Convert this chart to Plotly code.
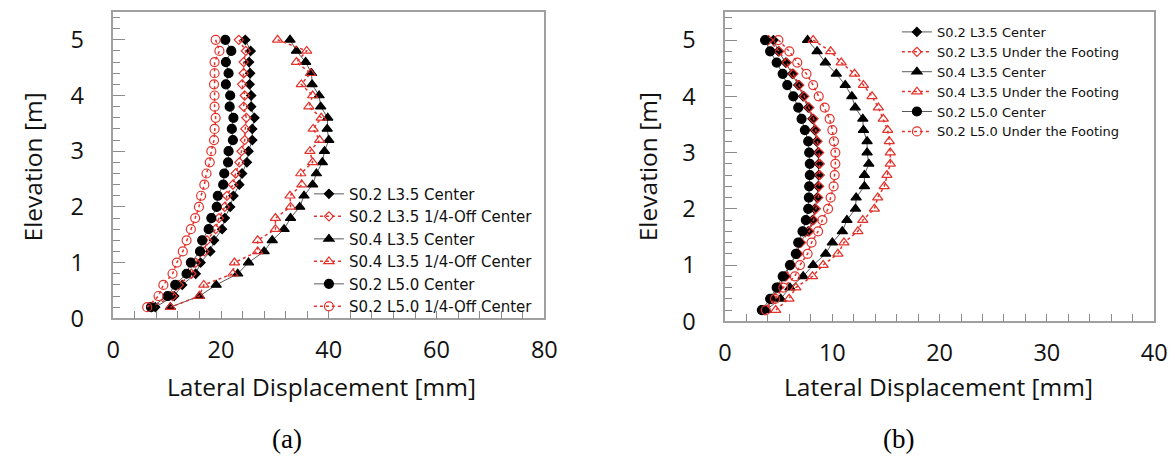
import plotly.graph_objects as go

# ---------------- data ----------------
elevation = [5.0, 4.8, 4.6, 4.4, 4.2, 4.0, 3.8, 3.6, 3.4, 3.2, 3.0, 2.8, 2.6,
             2.4, 2.2, 2.0, 1.8, 1.6, 1.4, 1.2, 1.0, 0.8, 0.6, 0.4, 0.2]

# panel (a)
a_s02_l35_center = [24.5, 25.5, 25.2, 25.4, 25.3, 25.6, 25.6, 26.2, 25.8, 25.8, 25.1, 24.8, 23.9,
                    23.4, 22.3, 21.7, 20.7, 20.2, 18.7, 18.0, 16.2, 15.3, 12.8, 11.3, 7.8]
a_s02_l35_off = [23.3, 24.6, 24.2, 24.2, 23.9, 24.4, 24.2, 24.7, 24.5, 24.4, 23.8, 23.4, 22.7,
                 22.2, 21.1, 20.7, 19.6, 19.0, 17.4, 16.9, 15.3, 14.5, 12.2, 11.0, 7.1]
a_s04_l35_center = [32.8, 34.0, 35.7, 36.8, 36.9, 38.2, 38.5, 39.8, 39.7, 40.0, 39.2, 38.8, 37.7,
                    37.0, 35.4, 34.6, 32.9, 31.7, 29.5, 28.0, 25.1, 23.1, 19.1, 16.0, 10.6]
a_s04_l35_off = [30.5, 35.9, 34.0, 36.6, 34.9, 37.0, 36.3, 38.6, 37.1, 38.3, 36.5, 37.0, 34.8,
                 35.0, 32.8, 32.9, 30.1, 30.1, 26.8, 26.8, 22.5, 22.2, 16.8, 16.0, 10.6]
a_s02_l50_center = [20.8, 21.9, 20.9, 21.4, 20.9, 21.7, 21.6, 22.3, 22.0, 22.2, 21.4, 21.3, 20.6,
                    20.4, 19.4, 19.2, 18.2, 17.7, 16.5, 16.1, 14.4, 13.6, 11.5, 10.1, 7.0]
a_s02_l50_off = [19.0, 19.7, 18.8, 18.8, 18.7, 18.8, 18.8, 19.0, 18.8, 18.7, 18.2, 17.9, 17.3,
                 16.9, 16.3, 15.9, 15.2, 14.4, 13.6, 12.9, 11.8, 11.0, 9.3, 8.4, 6.3]

# panel (b)
b_s02_l35_center = [4.51, 4.97, 5.65, 6.27, 6.82, 7.28, 7.75, 8.15, 8.36, 8.52, 8.67, 8.73, 8.73,
                    8.67, 8.58, 8.36, 8.15, 7.75, 6.98, 6.73, 6.05, 5.59, 4.91, 4.35, 3.67]
b_s02_l35_under = [4.05, 5.05, 5.75, 6.37, 6.92, 7.38, 7.85, 8.25, 8.46, 8.62, 8.77, 8.83, 8.83,
                   8.77, 8.68, 8.46, 8.25, 7.85, 7.08, 6.83, 6.15, 5.69, 5.01, 4.45, 3.75]
b_s04_l35_center = [7.69, 8.58, 9.35, 10.37, 11.20, 11.82, 12.13, 12.84, 12.90, 13.24, 13.24, 13.40, 12.99,
                    12.99, 12.22, 12.16, 11.36, 10.93, 10.00, 9.38, 8.21, 7.28, 6.05, 5.19, 3.80]
b_s04_l35_under = [8.21, 9.84, 10.83, 12.07, 12.90, 13.70, 14.29, 14.75, 15.16, 15.31, 15.40, 15.40, 15.09,
                   14.84, 14.23, 13.92, 12.84, 12.38, 11.08, 10.52, 9.14, 8.15, 6.60, 5.96, 4.72]
b_s02_l50_center = [3.73, 4.20, 4.81, 5.37, 5.80, 6.36, 6.82, 7.13, 7.44, 7.75, 7.84, 7.90, 7.90,
                    7.84, 7.81, 7.75, 7.53, 7.22, 6.82, 6.60, 6.05, 5.37, 4.81, 4.20, 3.43]
b_s02_l50_under = [4.97, 5.99, 6.73, 7.59, 8.21, 8.73, 9.29, 9.75, 10.00, 10.15, 10.28, 10.28, 10.22,
                   10.12, 9.84, 9.60, 9.07, 8.67, 8.06, 7.69, 6.98, 6.51, 5.43, 4.66, 3.80]

names_a = ["S0.2 L3.5 Center", "S0.2 L3.5 1/4-Off Center", "S0.4 L3.5 Center",
           "S0.4 L3.5 1/4-Off Center", "S0.2 L5.0 Center", "S0.2 L5.0 1/4-Off Center"]
names_b = ["S0.2 L3.5 Center", "S0.2 L3.5 Under the Footing", "S0.4 L3.5 Center",
           "S0.4 L3.5 Under the Footing", "S0.2 L5.0 Center", "S0.2 L5.0 Under the Footing"]

series_a = [a_s02_l35_center, a_s02_l35_off, a_s04_l35_center,
            a_s04_l35_off, a_s02_l50_center, a_s02_l50_off]
series_b = [b_s02_l35_center, b_s02_l35_under, b_s04_l35_center,
            b_s04_l35_under, b_s02_l50_center, b_s02_l50_under]

# ---------------- styles ----------------
RED = "#e3322c"
BLACK = "#000000"
styles = [
    dict(symbol="diamond", size=7, color=BLACK, line=dict(color="#5a5a5a", width=1, dash="solid")),
    dict(symbol="diamond-open", size=7, color=RED, line=dict(color=RED, width=1.5, dash="dot")),
    dict(symbol="triangle-up", size=9, color=BLACK, line=dict(color="#5a5a5a", width=1, dash="solid")),
    dict(symbol="triangle-up-open", size=9, color=RED, line=dict(color=RED, width=1.5, dash="dot")),
    dict(symbol="circle", size=9, color=BLACK, line=dict(color="#5a5a5a", width=1, dash="solid")),
    dict(symbol="circle-open", size=9, color=RED, line=dict(color=RED, width=1.5, dash="dot")),
]

FONT = "Open Sans, sans-serif"
LEG_FONT = "DejaVu Sans, Open Sans, sans-serif"

# reference frame (positions measured on the 1175x456 reference)
RW, RH = 1175, 456
# figure pixel size (the captured area is slightly larger than the reference)
W, H = 1187, 470


def fx(px):
    return px / RW


def fy(py):
    return 1 - py / RH


fig = go.Figure()


def add_panel(series, names, xa, ya, legend):
    for vals, name, st in zip(series, names, styles):
        fig.add_trace(go.Scatter(
            x=vals, y=elevation, name=name, mode="lines+markers",
            xaxis=xa, yaxis=ya, legend=legend,
            line=st["line"],
            marker=dict(symbol=st["symbol"], size=st["size"], color=st["color"],
                        line=dict(color=st["color"], width=1.2)),
        ))


add_panel(series_a, names_a, "x", "y", "legend")
add_panel(series_b, names_b, "x2", "y2", "legend2")

axis_common = dict(
    showline=True, linecolor="#a0a0a0", linewidth=1.5, mirror=True,
    showgrid=False, zeroline=False, ticks="inside", tickcolor="#8a8a8a",
    tickfont=dict(family=FONT, size=23.5, color="#111"),
)

fig.update_layout(
    width=W, height=H, margin=dict(l=0, r=0, t=0, b=0),
    paper_bgcolor="white", plot_bgcolor="white",
    font=dict(family=FONT, color="#111"),
    xaxis=dict(domain=[fx(107), fx(541)], range=[0, 80], dtick=20, ticklen=8,
               minor=dict(dtick=4, ticks="inside", ticklen=8, tickcolor="#8a8a8a"),
               ticklabelstandoff=10, anchor="y", **axis_common),
    yaxis=dict(domain=[fy(319), fy(12)], range=[0, 5.5], dtick=1, ticklen=12,
               minor=dict(dtick=0.2, ticks="inside", ticklen=7, tickcolor="#8a8a8a"),
               ticklabelstandoff=23, anchor="x", **axis_common),
    xaxis2=dict(domain=[fx(723), fx(1155)], range=[0, 40], dtick=10, ticklen=8,
                minor=dict(dtick=2, ticks="inside", ticklen=8, tickcolor="#8a8a8a"),
                ticklabelstandoff=10, anchor="y2", **axis_common),
    yaxis2=dict(domain=[fy(322), fy(12)], range=[0, 5.5], dtick=1, ticklen=12,
                minor=dict(dtick=0.2, ticks="inside", ticklen=7, tickcolor="#8a8a8a"),
                ticklabelstandoff=23, anchor="x2", **axis_common),
    legend=dict(x=fx(304), y=fy(178), xanchor="left", yanchor="top",
                bgcolor="rgba(0,0,0,0)", font=dict(family=LEG_FONT, size=15, color="#111"),
                tracegroupgap=0),
    legend2=dict(x=fx(896), y=fy(17), xanchor="left", yanchor="top",
                 bgcolor="rgba(0,0,0,0)", font=dict(family=LEG_FONT, size=13, color="#111"),
                 tracegroupgap=0),
    showlegend=True,
)

annots = [
    dict(text="Lateral Displacement [mm]", x=fx(317), y=fy(387), angle=0),
    dict(text="Lateral Displacement [mm]", x=fx(938), y=fy(387), angle=0),
    dict(text="Elevation [m]", x=fx(26), y=fy(167), angle=-90),
    dict(text="Elevation [m]", x=fx(645), y=fy(167), angle=-90),
]
for a in annots:
    fig.add_annotation(text=a["text"], x=a["x"], y=a["y"], xref="paper", yref="paper",
                       showarrow=False, textangle=a["angle"], xanchor="center", yanchor="middle",
                       font=dict(family=FONT, size=24.5, color="#111"))

for cap, cx in (("(a)", 282), ("(b)", 898)):
    fig.add_annotation(text=cap, x=fx(cx), y=fy(440), xref="paper", yref="paper",
                       showarrow=False, xanchor="center", yanchor="middle",
                       font=dict(family="Liberation Serif, Times New Roman, serif", size=27, color="#000"))

post = ("document.documentElement.style.margin='0';"
        "document.body.style.margin='0';"
        "document.body.style.padding='0';")

fig.write_html("out.html", config={"displayModeBar": False}, post_script=post)
